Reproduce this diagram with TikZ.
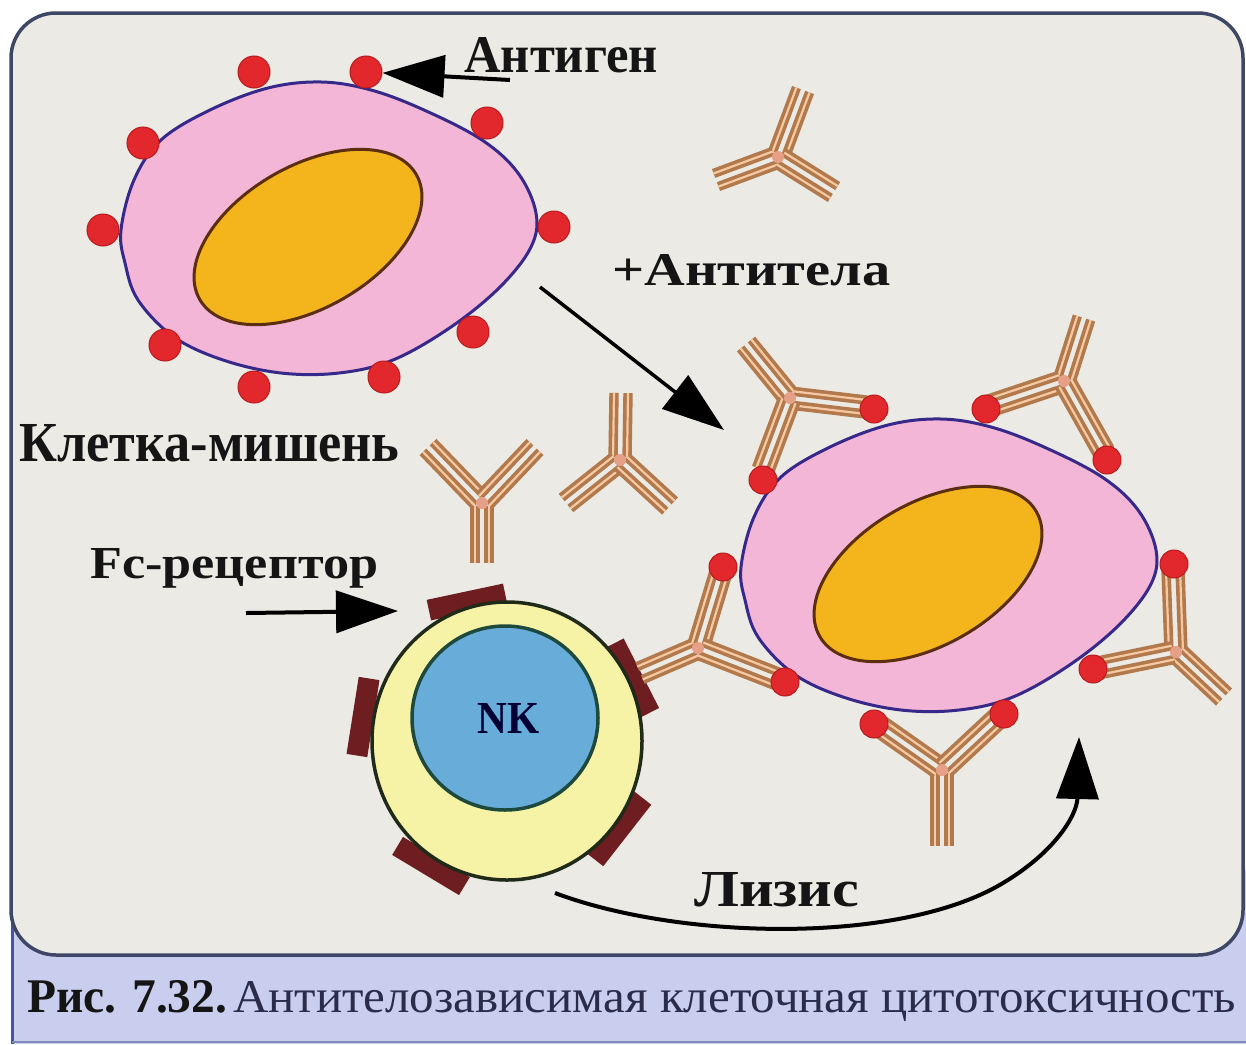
\documentclass[tikz,border=0pt]{standalone}
\usepackage{fontspec}
\setmainfont{Liberation Serif}
\usepackage{graphicx}
\usetikzlibrary{arrows.meta,calc,shapes.geometric}

\definecolor{panel}{HTML}{EBEAE5}
\definecolor{framec}{HTML}{3F4766}
\definecolor{band}{HTML}{C9CDEE}
\definecolor{bandedge}{HTML}{4556A0}
\definecolor{cellpink}{HTML}{F3B6D6}
\definecolor{cellline}{HTML}{36298A}
\definecolor{nucfill}{HTML}{F4B41B}
\definecolor{nucline}{HTML}{5A2E0E}
\definecolor{agred}{HTML}{E2282C}
\definecolor{agedge}{HTML}{B81A1E}
\definecolor{abbrown}{HTML}{B27A4C}
\definecolor{ablight}{HTML}{F7C9A2}
\definecolor{abjoint}{HTML}{E6A088}
\definecolor{nkyellow}{HTML}{F6F2A6}
\definecolor{nkblue}{HTML}{68ACD9}
\definecolor{nkline}{HTML}{1F2A18}
\definecolor{nkinner}{HTML}{1E4A3E}
\definecolor{fcrec}{HTML}{6E1E20}
\definecolor{ink}{HTML}{151515}
\definecolor{capink}{HTML}{2A2C4A}

% one antibody chain pair: junction (#1,#2) to end (#3,#4)
\newcommand{\abseg}[4]{%
  \pgfmathsetmacro{\abang}{atan2(-((#4)-(#2)),(#3)-(#1))}%
  \pgfmathsetmacro{\ablen}{veclen((#3)-(#1),(#4)-(#2))}%
  \begin{scope}[shift={(#1,#2)},rotate=\abang]
    \draw[strand] (3,7) -- (\ablen,7);
    \draw[strand] (3,-7) -- (\ablen,-7);
  \end{scope}}
% a whole antibody: junction, stem end, two arm ends
\newcommand{\antibody}[8]{%
  \abseg{#1}{#2}{#3}{#4}\abseg{#1}{#2}{#5}{#6}\abseg{#1}{#2}{#7}{#8}%
  \fill[abjoint] (#1,#2) circle[radius=6];}

% outline of a target cell
\newcommand{\cellbody}{plot[smooth cycle, tension=0.6] coordinates {
  (121,230) (134,180) (161,140) (210,110) (268,88) (321,82) (371,90)
  (424,110) (482,140) (518,173) (536,213) (531,247) (500,287) (451,327)
  (393,360) (339,373) (281,373) (223,360) (174,337) (138,300) (125,263)}}

\begin{document}
\begin{tikzpicture}[x=1pt,y=-1pt,
  strand/.style={draw=abbrown, line width=3.6pt, double=ablight, double distance=2.2pt},
  antigen/.style={circle, fill=agred, draw=agedge, line width=1pt, minimum size=32pt, inner sep=0pt},
  antigensm/.style={antigen, minimum size=28pt},
  membrane/.style={fill=cellpink, draw=cellline, line width=3pt},
  nucleus/.style={fill=nucfill, draw=nucline, line width=3pt},
  fcbox/.style={rectangle, fill=fcrec, minimum width=78pt, minimum height=21pt, inner sep=0pt},
  bigarrow/.style={draw=black, line width=4pt, -{Triangle[length=62pt,width=42pt]}},
  lbl/.style={inner sep=0pt, anchor=base west, font=\bfseries, text=ink}]

\useasboundingbox (0,0) rectangle (1246,1044);
\fill[white] (0,0) rectangle (1246,1044);

% caption band and frame
\fill[band] (11,870) rectangle (1246,1044);
\draw[bandedge, line width=3pt] (12,870) -- (12,1044);
\draw[bandedge!70, line width=1.5pt] (12,1042) -- (1246,1042);
\draw[fill=panel, draw=framec, line width=3.5pt, rounded corners=45pt] (11,13) rectangle (1243,955);

% target cell (free)
\coordinate (cellA) at (328,228);
\draw[membrane] \cellbody;
\draw[nucleus, rotate around={30:(308,237)}] (308,237) ellipse [x radius=125, y radius=71];

% target cell (coated)
\coordinate (cellB) at (948,565);
\begin{scope}[shift={(620,337)}]
  \draw[membrane] \cellbody;
  \draw[nucleus, rotate around={30:(308,237)}] (308,237) ellipse [x radius=125, y radius=71];
\end{scope}

% NK cell with Fc receptors
\node[fcbox, rotate=12]  (rtop)   at (467,602) {};
\node[fcbox, rotate=-63] (rright) at (632,678) {};
\node[fcbox, rotate=81]  (rleft)  at (363,717) {};
\node[fcbox, rotate=149] (rll)    at (431,866) {};
\node[fcbox, rotate=232] (rlr)    at (619,829) {};
\node[ellipse, fill=nkyellow, draw=nkline, line width=3.5pt, minimum width=270pt, minimum height=278pt, inner sep=0pt] (nk) at (507,741) {};
\node[ellipse, fill=nkblue, draw=nkinner, line width=3.5pt, minimum width=186pt, minimum height=184pt, inner sep=0pt] (nknuc) at (505,718) {};
\node[lbl, text=black!80!blue] (nklbl) at (477,733) {\resizebox{62pt}{30pt}{NK}};

% antibodies
\antibody{778}{157}{803}{90}{716}{180}{834}{192}
\antibody{482}{503}{482}{563}{428}{447}{535}{447}
\antibody{620}{460}{621}{393}{566}{503}{670}{506}
\antibody{790}{398}{746}{344}{866}{407}{763}{470}
\antibody{1064}{381}{1084}{318}{986}{407}{1104}{452}
\antibody{1176}{652}{1224}{697}{1173}{570}{1098}{668}
\antibody{942}{770}{942}{846}{878}{725}{1000}{716}
\antibody{698}{648}{640}{673}{721}{572}{780}{680}

% antigens of the free cell
\node[antigen] (a1) at (254,72) {};
\node[antigen] (a2) at (366,72) {};
\node[antigen] (a3) at (487,123) {};
\node[antigen] (a4) at (143,143) {};
\node[antigen] (a5) at (103,230) {};
\node[antigen] (a6) at (554,227) {};
\node[antigen] (a7) at (473,332) {};
\node[antigen] (a8) at (165,345) {};
\node[antigen] (a9) at (254,387) {};
\node[antigen] (a10) at (384,377) {};

% antigens of the coated cell
\begin{scope}[shift={(620,337)}]
\node[antigensm] (b1) at (254,72) {};
\node[antigensm] (b2) at (366,72) {};
\node[antigensm] (b3) at (487,123) {};
\node[antigensm] (b4) at (143,143) {};
\node[antigensm] (b5) at (103,230) {};
\node[antigensm] (b6) at (554,227) {};
\node[antigensm] (b7) at (473,332) {};
\node[antigensm] (b8) at (165,345) {};
\node[antigensm] (b9) at (254,387) {};
\node[antigensm] (b10) at (384,377) {};
\end{scope}

% labels
\node[lbl] (lantigen) at (464,72)  {\resizebox{194pt}{35pt}{Антиген}};
\node[lbl] (lantibody) at (612,285) {\resizebox{278pt}{31pt}{+Антитела}};
\node[lbl] (ltarget) at (19,461)  {\resizebox{380pt}{37pt}{Клетка-мишень}};
\node[lbl] (lfc) at (90,578)  {\resizebox{288pt}{30pt}{Fc-рецептор}};
\node[lbl] (llysis) at (694,906) {\resizebox{165pt}{34pt}{Лизис}};

% arrows
\coordinate (agtail) at (510,80);
\draw[bigarrow] (agtail) -- (a2);
\coordinate (fctail) at (246,613);
\coordinate (fctip) at (398,611);
\draw[bigarrow] (fctail) -- (fctip);
\coordinate (mixtail) at (540,287);
\coordinate (mixtip) at (724,430);
\draw[bigarrow, line width=3.5pt] (mixtail) -- (mixtip);
\coordinate (lysstart) at (555,893);
\coordinate (lysmid) at (1003,883);
\coordinate (lysend) at (1079,737);
\draw[bigarrow] (lysstart) .. controls (680,940) and (900,945) .. (lysmid)
  .. controls (1055,852) and (1077,815) .. (lysend);

% caption
\node[lbl] (capnum) at (27,1012) {\resizebox{200pt}{32pt}{Рис. 7.32.}};
\node[lbl, font=\mdseries, text=capink] (captext) at (233,1012)
  {\resizebox{1003pt}{31pt}{Антителозависимая клеточная цитотоксичность}};
\end{tikzpicture}
\end{document}
